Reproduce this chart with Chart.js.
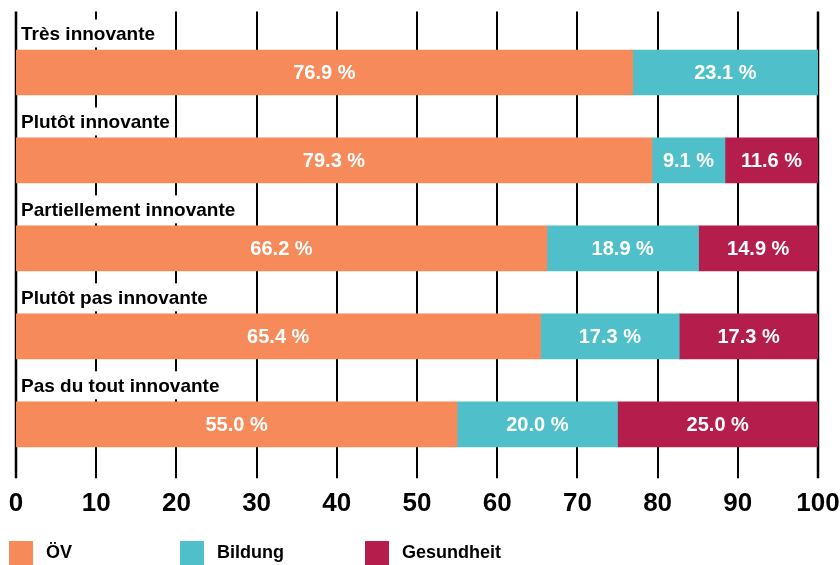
<!DOCTYPE html>
<html>
<head>
<meta charset="utf-8">
<script src="https://cdn.jsdelivr.net/npm/chart.js@4.4.1/dist/chart.umd.min.js"></script>
<style>
  html, body { margin: 0; padding: 0; background: #fff; }
  canvas { display: block; }
</style>
</head>
<body>
<canvas id="chart" width="840" height="565"></canvas>
<script>
const categories = ['Très innovante', 'Plutôt innovante', 'Partiellement innovante', 'Plutôt pas innovante', 'Pas du tout innovante'];
const seriesNames = ['ÖV', 'Bildung', 'Gesundheit'];
const seriesColors = ['#F68A5B', '#4FC0C9', '#B41D4C'];
const oevValues = [76.9, 79.3, 66.2, 65.4, 55.0];
const bildungValues = [23.1, 9.1, 18.9, 17.3, 20.0];
const gesundheitValues = [null, 11.6, 14.9, 17.3, 25.0];
const xMin = 0, xMax = 100, xStep = 10;

const FONT = '"Liberation Sans", Arial, sans-serif';

// vertical black grid lines, drawn under the bars and running past the plot area
const gridPlugin = {
    id: 'gridLines',
    beforeDatasetsDraw(chart) {
        const {ctx, chartArea, scales: {x}} = chart;
        ctx.save();
        ctx.strokeStyle = '#000';
        for (let v = xMin; v <= xMax; v += xStep) {
            const px = Math.round(x.getPixelForValue(v));
            ctx.lineWidth = (v === xMin || v === xMax) ? 2.5 : 2;
            ctx.beginPath();
            ctx.moveTo(px, chartArea.top - 17);
            ctx.lineTo(px, chartArea.bottom + 10);
            ctx.stroke();
        }
        ctx.restore();
    }
};

// white percent labels inside segments + category labels above each bar
const labelPlugin = {
    id: 'barLabels',
    afterDatasetsDraw(chart) {
        const {ctx} = chart;
        ctx.save();
        ctx.textAlign = 'center';
        ctx.textBaseline = 'middle';
        ctx.fillStyle = '#fff';
        ctx.font = 'bold 20px ' + FONT;
        chart.data.datasets.forEach((ds, i) => {
            chart.getDatasetMeta(i).data.forEach((bar, j) => {
                const v = ds.data[j];
                if (!v) return;
                const {x, y, base} = bar.getProps(['x', 'y', 'base'], true);
                ctx.fillText(v.toFixed(1) + ' %', (x + base) / 2, y + 1);
            });
        });

        ctx.font = 'bold 19px ' + FONT;
        ctx.textAlign = 'left';
        const left = chart.chartArea.left;
        chart.getDatasetMeta(0).data.forEach((bar, j) => {
            const {y, height} = bar.getProps(['y', 'height'], true);
            const cy = y - height / 2 - 16.5;
            const w = ctx.measureText(categories[j]).width;
            ctx.fillStyle = '#fff';
            ctx.fillRect(left + 2, cy - 14, w + 8, 28);
            ctx.fillStyle = '#000';
            ctx.fillText(categories[j], left + 5, cy + 1);
        });
        ctx.restore();
    }
};

// legend at the bottom left, fixed columns
const legendPlugin = {
    id: 'bottomLegend',
    afterDraw(chart, args, opts) {
        const {ctx} = chart;
        ctx.save();
        ctx.font = 'bold 18px ' + FONT;
        ctx.textBaseline = 'middle';
        ctx.textAlign = 'left';
        chart.data.datasets.forEach((ds, i) => {
            const x0 = opts.columns[i];
            ctx.fillStyle = ds.backgroundColor;
            ctx.fillRect(x0, opts.top, 24, 24);
            ctx.fillStyle = '#000';
            ctx.fillText(ds.label, x0 + 37, opts.top + 12);
        });
        ctx.restore();
    }
};

const seriesValues = [oevValues, bildungValues, gesundheitValues];

new Chart(document.getElementById('chart'), {
    type: 'bar',
    data: {
        labels: categories,
        datasets: seriesNames.map((name, i) => ({
            label: name,
            data: seriesValues[i],
            backgroundColor: seriesColors[i],
            borderWidth: 0,
            barThickness: 45
        }))
    },
    options: {
        indexAxis: 'y',
        responsive: false,
        animation: false,
        layout: { padding: { left: 16, right: 22, top: 28.5, bottom: 25.5 } },
        plugins: {
            legend: { display: false },
            tooltip: { enabled: false },
            bottomLegend: { columns: [9, 180, 365], top: 541 }
        },
        scales: {
            x: {
                stacked: true,
                min: xMin,
                max: xMax,
                border: { display: false },
                grid: { display: false, drawTicks: false },
                ticks: {
                    stepSize: xStep,
                    color: '#000',
                    padding: 20,
                    maxRotation: 0,
                    font: { family: FONT, size: 26, weight: 'bold' }
                },
                // let the end labels hang over the edges like in the original
                afterFit(scale) {
                    scale.paddingLeft = 0;
                    scale.paddingRight = 0;
                }
            },
            y: {
                stacked: true,
                display: false
            }
        }
    },
    plugins: [gridPlugin, labelPlugin, legendPlugin]
});
</script>
</body>
</html>
